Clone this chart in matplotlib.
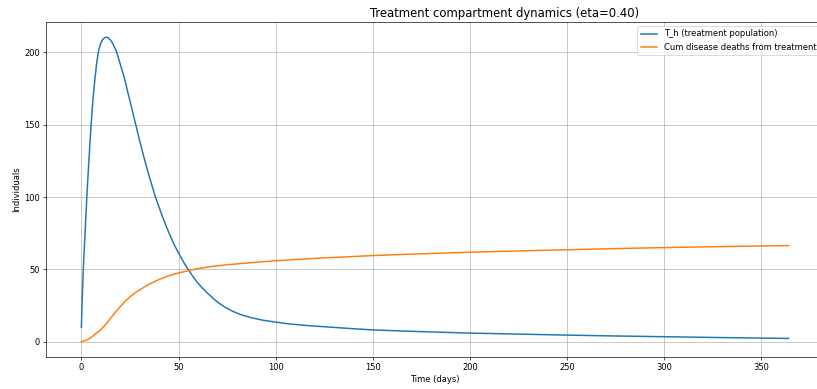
"""
Treatment compartment dynamics chart
"""

import matplotlib
matplotlib.use("Agg")
import matplotlib.pyplot as plt

# Dados
t_treat = [0, 0.5, 1, 1.5, 2, 3, 4, 5, 6, 7, 8, 9, 10, 11, 12, 13, 14, 15, 16,
           18, 20, 22, 24, 26, 28, 30, 32, 35, 38, 42, 45, 48, 50, 52, 54, 56,
           58, 60, 62, 65, 68, 70, 74, 78, 82, 87, 93, 100, 106, 112, 118, 125,
           138, 150, 162, 175, 200, 225, 250, 275, 300, 330, 364]
T_h = [10, 32, 50, 64, 78, 105, 128, 150, 168, 182, 194, 202, 206.5, 209,
       210.2, 210.5, 210, 208.5, 206.5, 201, 192, 183, 172, 161, 150, 139,
       128.5, 114, 100.5, 85.5, 75.5, 66.5, 61.5, 56.5, 52, 48, 44, 40.5,
       37.5, 33.5, 29.8, 27.5, 23.8, 21, 18.8, 16.8, 15, 13.6, 12.5, 11.7,
       11.0, 10.4, 9.2, 8.2, 7.6, 7.0, 6.0, 5.3, 4.6, 4.0, 3.5, 2.9, 2.3]

t_deaths = [0, 2.5, 5, 7.5, 10, 12.5, 15, 17.5, 20, 22.5, 25, 27.5, 30, 33,
            36, 40, 45, 50, 55, 60, 65, 70, 75, 80, 90, 100, 112, 125, 138,
            150, 175, 200, 225, 250, 275, 300, 330, 364]
cum_deaths = [0, 1, 3, 5.7, 8.3, 12, 16.2, 20.5, 24.3, 28, 31, 33.7, 35.8,
              38.4, 40.5, 43.1, 45.7, 47.6, 49.1, 50.6, 51.6, 52.5, 53.2, 53.8,
              55, 56, 57, 58, 58.8, 59.6, 60.8, 61.9, 62.8, 63.6, 64.4, 65.1,
              65.8, 66.5]

dpi = 60
fig = plt.figure(figsize=(817 / dpi, 389 / dpi), dpi=dpi)
ax = fig.add_axes([46 / 817, 32 / 389, 778 / 817, 335 / 389])

ax.plot(t_treat, T_h, linewidth=1.8, label='T_h (treatment population)')
ax.plot(t_deaths, cum_deaths, linewidth=1.8,
        label='Cum disease deaths from treatment')

# título deslocado como na imagem original (figura recortada à direita)
ax.set_title('Treatment compartment dynamics (eta=0.40)', fontsize=14, x=0.59)
ax.set_xlabel('Time (days)')
ax.set_ylabel('Individuals')
ax.grid(True)
ax.legend(loc='upper right')

fig.savefig('out.png', dpi=dpi)
